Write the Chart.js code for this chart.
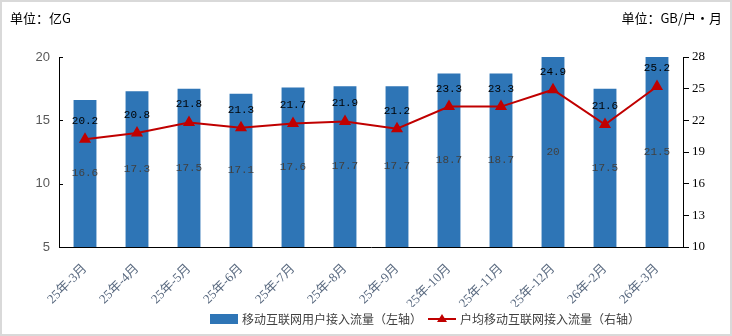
<!DOCTYPE html>
<html><head><meta charset="utf-8">
<script src="https://cdn.jsdelivr.net/npm/chart.js@4/dist/chart.umd.min.js"></script>
<style>html,body{margin:0;padding:0;background:#fff;}canvas{display:block;}</style>
</head><body>
<canvas id="c" width="732" height="336"></canvas>
<script>
const categories = ['25年-3月','25年-4月','25年-5月','25年-6月','25年-7月','25年-8月','25年-9月','25年-10月','25年-11月','25年-12月','26年-2月','26年-3月'];
const trafficTotal = [16.6,17.3,17.5,17.1,17.6,17.7,17.7,18.7,18.7,20,17.5,21.5];
const trafficPerUser = [20.2,20.8,21.8,21.3,21.7,21.9,21.2,23.3,23.3,24.9,21.6,25.2];
const leftTitle = '单位：亿G';
const rightTitle = '单位：GB/户・月';
const seriesNames = ['移动互联网用户接入流量（左轴）','户均移动互联网接入流量（右轴）'];

const BAR = '#2E75B6', LINE = '#C00000';
const CJK = '"Noto Sans CJK SC", sans-serif';

const extras = {
  id: 'extras',
  beforeDraw(chart){
    const ctx = chart.ctx;
    ctx.save();
    ctx.fillStyle = '#fff';
    ctx.fillRect(0,0,chart.width,chart.height);
    ctx.restore();
  },
  afterDatasetsDraw(chart){
    const ctx = chart.ctx, area = chart.chartArea;
    ctx.save();
    const bm = chart.getDatasetMeta(1);
    ctx.font = '11px "Liberation Mono", monospace';
    ctx.textAlign = 'center'; ctx.textBaseline = 'middle';
    ctx.fillStyle = '#404040';
    bm.data.forEach((el,i)=>{
      const top = Math.max(el.y, area.top);
      const bot = Math.min(el.base, area.bottom);
      ctx.fillText(String(trafficTotal[i]), el.x, (top + bot)/2);
    });
    const lm = chart.getDatasetMeta(0);
    ctx.fillStyle = '#000';
    lm.data.forEach((el,i)=>{
      ctx.fillText(trafficPerUser[i].toFixed(1), el.x, el.y - 18);
    });
    ctx.restore();
  },
  afterDraw(chart){
    const ctx = chart.ctx, area = chart.chartArea;
    ctx.save();
    const ys = chart.scales.y;
    ctx.strokeStyle = '#000'; ctx.lineWidth = 1;
    ys.ticks.forEach(t=>{
      const p = Math.round(ys.getPixelForValue(t.value)) + 0.5;
      ctx.beginPath(); ctx.moveTo(area.left, p); ctx.lineTo(area.left + 4, p); ctx.stroke();
    });
    ctx.fillStyle = '#000';
    ctx.font = '13px ' + CJK;
    ctx.textBaseline = 'middle';
    ctx.textAlign = 'left';
    ctx.fillText(leftTitle, 10, 18);
    ctx.textAlign = 'right';
    ctx.fillText(rightTitle, 722, 18);
    // legend
    ctx.font = '12px ' + CJK;
    ctx.textAlign = 'left';
    const sw = 28, gap = 4, sep = 6;
    const w1 = ctx.measureText(seriesNames[0]).width;
    let x = 210;
    const ly = 319;
    ctx.fillStyle = BAR;
    ctx.fillRect(x, ly-5, sw, 10);
    x += sw + gap;
    ctx.fillStyle = '#404040';
    ctx.fillText(seriesNames[0], x, ly);
    x += w1 + sep;
    ctx.strokeStyle = LINE; ctx.lineWidth = 2;
    ctx.beginPath(); ctx.moveTo(x, ly); ctx.lineTo(x+sw, ly); ctx.stroke();
    ctx.fillStyle = LINE;
    const cx = x + sw/2;
    ctx.beginPath(); ctx.moveTo(cx, ly-5); ctx.lineTo(cx+5, ly+3); ctx.lineTo(cx-5, ly+3); ctx.closePath(); ctx.fill();
    x += sw + gap;
    ctx.fillStyle = '#404040';
    ctx.fillText(seriesNames[1], x, ly);
    ctx.strokeStyle = '#d9d9d9'; ctx.lineWidth = 2;
    ctx.strokeRect(1,1,chart.width-2,chart.height-2);
    ctx.restore();
  }
};

new Chart(document.getElementById('c'), {
  data: {
    labels: categories,
    datasets: [
      {
        type: 'line', label: seriesNames[1], data: trafficPerUser, yAxisID: 'y1', order: 0,
        borderColor: LINE, backgroundColor: LINE, borderWidth: 2,
        pointStyle: 'triangle', pointRadius: 5, pointBackgroundColor: LINE, pointBorderColor: LINE,
        tension: 0
      },
      {
        type: 'bar', label: seriesNames[0], data: trafficTotal, yAxisID: 'y', order: 1,
        backgroundColor: BAR, barPercentage: 0.44, categoryPercentage: 1
      }
    ]
  },
  options: {
    responsive: false, animation: false, devicePixelRatio: 1,
    layout: { padding: { top: 57, bottom: 29, left: 0, right: 0 } },
    plugins: { legend: { display: false }, tooltip: { enabled: false } },
    scales: {
      x: {
        offset: true,
        grid: { display: false, drawTicks: false },
        border: { display: true, color: '#000', width: 1 },
        ticks: { minRotation: 45, maxRotation: 45, autoSkip: false, padding: 14,
          color: '#5a6a80', font: { family: '"Liberation Serif", ' + CJK, size: 13 } },
        afterFit(s){ s.height = 60; }
      },
      y: {
        position: 'left', min: 5, max: 20,
        grid: { display: false, drawTicks: false },
        border: { display: true, color: '#000', width: 1 },
        ticks: { stepSize: 5, padding: 9, color: '#595959', font: { family: '"Liberation Sans", sans-serif', size: 13 } },
        afterFit(s){ s.width = 59; }
      },
      y1: {
        position: 'right', min: 10, max: 28,
        grid: { drawOnChartArea: false, drawTicks: true, tickLength: 6, color: '#000' },
        border: { display: true, color: '#000', width: 1 },
        ticks: { stepSize: 3, padding: 3, color: '#000', font: { family: '"Liberation Serif", serif', size: 13 } },
        afterFit(s){ s.width = 49; }
      }
    }
  },
  plugins: [extras]
});
</script>
</body></html>
